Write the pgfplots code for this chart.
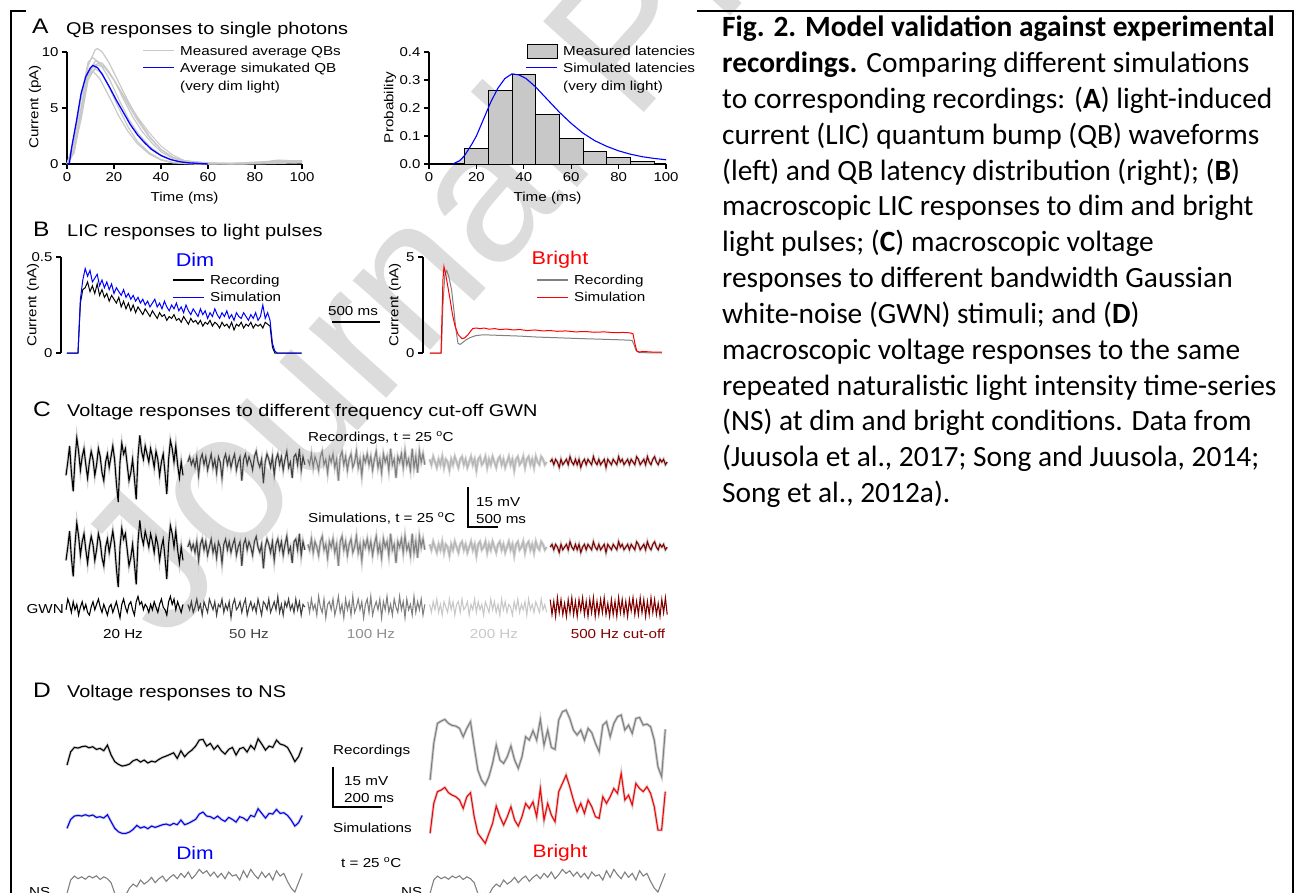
\documentclass[border=0pt]{standalone}
\usepackage{fontspec}
\setmainfont{Liberation Sans}[FakeStretch=1.17]
\newfontfamily\capfont{Carlito}
\newfontfamily\wmfont{Liberation Sans}
\usepackage{pgfplots}
\usepackage{pgfplotstable}
\pgfplotsset{compat=1.18}

\definecolor{qbgray}{HTML}{C8C8C8}
\definecolor{dkred}{HTML}{800000}
\definecolor{g50}{HTML}{404040}
\definecolor{g100}{HTML}{808080}
\definecolor{g200}{HTML}{B4B4B4}
\definecolor{g200l}{HTML}{C8C8C8}
\definecolor{sd}{HTML}{D2D2D2}
\definecolor{wm}{HTML}{DCDCDC}

\newcommand\fs[1]{\fontsize{#1}{#1}\selectfont}

% B: dim light pulse, t in ms, current in nA
\pgfplotstableread{
t rec sim
-115 0 0
0 0.00 0.00
25 0.26 0.28
50 0.33 0.38
75 0.34 0.44
100 0.37 0.40
125 0.32 0.43
150 0.35 0.37
175 0.31 0.39
200 0.36 0.41
225 0.30 0.35
250 0.33 0.38
275 0.29 0.34
300 0.31 0.37
325 0.27 0.33
350 0.30 0.36
375 0.28 0.31
400 0.26 0.34
425 0.29 0.32
450 0.24 0.30
475 0.27 0.33
500 0.23 0.29
525 0.26 0.31
550 0.22 0.28
575 0.25 0.30
600 0.21 0.27
625 0.24 0.29
650 0.22 0.26
675 0.20 0.28
700 0.23 0.25
725 0.21 0.27
750 0.19 0.24
775 0.22 0.26
800 0.20 0.28
825 0.18 0.24
850 0.21 0.26
875 0.19 0.23
900 0.20 0.27
925 0.17 0.24
950 0.19 0.22
975 0.18 0.25
1000 0.20 0.23
1025 0.17 0.26
1050 0.18 0.22
1075 0.16 0.24
1100 0.19 0.21
1125 0.17 0.25
1150 0.15 0.22
1175 0.18 0.20
1200 0.16 0.23
1225 0.17 0.21
1250 0.15 0.19
1275 0.17 0.23
1300 0.14 0.20
1325 0.16 0.22
1350 0.15 0.18
1375 0.17 0.21
1400 0.14 0.19
1425 0.16 0.23
1450 0.15 0.20
1475 0.13 0.18
1500 0.16 0.21
1525 0.14 0.19
1550 0.15 0.22
1575 0.13 0.18
1600 0.16 0.20
1625 0.12 0.17
1650 0.15 0.21
1675 0.14 0.19
1700 0.16 0.18
1725 0.13 0.21
1750 0.15 0.19
1775 0.14 0.17
1800 0.16 0.20
1825 0.13 0.18
1850 0.15 0.21
1875 0.14 0.17
1900 0.15 0.19
1925 0.13 0.25
1950 0.16 0.18
1975 0.15 0.21
2000 0.14 0.17
2025 0.03 0.05
2050 0.00 0.01
2075 0.00 0.00
2330 0.00 0.00
}\dimB

% C: voltage responses (a..e) and GWN stimuli (ga..ge), t in ms, mV
\pgfplotstableread{
t a b c d e ga gb gc gd ge
0 -3 0 1 1 0 -1 1 2 1 2.8
30 2 2 -1 -1 1 3 -1 -2 -2 -2.8
60 8 -1 3 2 -1 1 2 3 2 2.1
90 -2 1 -2 0 1 -2 -2 -1 -1 -3.5
120 -9 -2 2 -2 0 2 0 1 3 3.5
150 3 2 0 1 -2 -1 3 -3 -2 -2.1
180 11 -5 -3 -1 1 1 -1 4 1 2.8
210 6 1 2 2 -1 -3 1 0 -3 -2.8
240 -1 3 4 -2 0 0 -3 -2 2 1.4
270 4 -1 -1 1 1 2 2 3 0 -3.5
300 7 2 1 0 -1 -1 0 -4 -2 2.8
330 1 -3 -4 -3 2 1 -2 1 3 -2.1
360 -4 0 2 1 0 -2 3 2 -1 3.5
390 2 3 0 -1 -1 -3 1 -1 2 -2.8
420 6 -2 3 2 1 0 -1 3 -3 2.1
450 3 1 -2 0 -1 2 2 -3 1 -3.5
480 -3 -4 1 -2 1 -1 -3 0 2 2.8
510 1 2 -7 1 -2 1 1 4 -2 -1.4
540 7 0 2 2 0 3 0 -2 3 3.5
570 4 -6 4 -1 1 0 3 1 -1 -2.8
600 -2 1 -1 1 -1 -2 -2 -4 0 2.1
630 -5 3 2 -2 1 1 1 3 2 -3.5
660 2 -1 -3 0 0 -1 -1 -1 -3 2.8
690 5 2 1 2 -1 -3 2 2 1 -2.1
720 0 -2 3 -1 2 0 -4 -3 -1 3.5
750 4 1 -2 1 0 1 1 4 3 -3.5
780 8 3 0 -3 -1 -2 3 -2 -2 2.1
810 3 -3 4 1 1 0 -1 0 2 -2.8
840 -6 0 -2 2 -1 2 0 3 -1 2.8
870 -13 2 1 -1 0 -1 2 -1 1 -2.1
900 2 -7 -5 0 1 -4 -2 2 -3 3.5
930 9 1 2 2 -2 1 1 -4 2 -2.8
960 5 3 0 -2 1 3 3 1 0 1.4
990 7 -1 3 1 0 0 -3 3 -2 -3.5
1020 1 2 -1 -1 -1 -2 0 -2 3 2.8
1050 -5 0 2 2 1 1 2 4 -1 -2.8
1080 -2 -3 -3 0 0 2 -1 -3 2 2.1
1110 3 2 1 -2 -1 -1 1 0 -2 -3.5
1140 -4 4 4 1 2 -3 -2 2 1 3.5
1170 -12 0 -2 2 0 2 3 -1 -3 -2.1
1200 4 -2 1 -1 1 4 0 3 3 2.8
1230 12 1 -4 1 -1 1 -3 -4 -1 -2.8
1260 6 -8 3 -2 0 2 2 2 2 2.1
1290 3 0 0 0 1 -1 1 -1 -2 -3.5
1320 8 3 2 2 -1 1 -1 4 1 2.8
1350 5 1 -3 -1 1 0 3 -2 0 -1.4
1380 2 -2 5 1 0 -2 -2 1 -3 3.5
1410 7 2 -1 -3 -1 1 0 -3 2 -2.8
1440 4 -5 1 1 2 -1 2 3 -1 2.1
1470 0 1 -6 2 1 2 -1 0 3 -2.8
1500 6 3 2 -1 -1 0 4 -2 -2 3.5
1530 3 -1 0 0 0 -2 -2 4 1 -2.1
1560 -3 2 3 2 1 1 1 -1 -1 2.8
1590 2 -3 -2 -2 -1 3 -3 2 2 -3.5
1620 5 1 4 1 2 0 2 -4 -3 2.1
1650 -2 4 -1 2 0 -1 0 3 3 -2.8
1680 -10 -2 1 -1 -1 -3 3 -1 -1 3.5
1710 3 0 -3 1 1 2 -1 1 1 -2.1
1740 10 -6 5 -2 2 4 1 -3 -2 2.8
1770 7 2 -2 2 0 1 -2 4 2 -2.8
1800 2 3 2 0 -1 3 3 -2 0 1.4
1830 8 -1 -4 -1 1 -1 -1 2 -2 -3.5
1860 1 5 4 2 0 2 2 -1 3 2.8
1890 -4 -3 0 1 1 0 -3 3 -1 -2.1
1920 2 2 3 -1 -1 -2 1 -3 1 3.5
1950 -3 -1 -1 0 0 1 0 1 -2 -2.8
}\Cv

% D: NS responses, t in ms, mV (dim rec/sim, bright rec/sim, NS stimulus)
\pgfplotstableread{
t dr ds br bs ns
0 -1.9 -3.1 -12.5 -8.75 -5
15 3.1 0.25 1.25 2.5 0
30 4.75 1.5 8.75 6.9 1.5
45 4.5 1.75 9.6 7.5 0.5
60 5 1.5 10.25 8.5 1.2
75 5.25 2 8.75 6.5 0.3
90 4.6 1.5 8 5.6 1.5
105 5 1.9 7.75 5 0.8
120 4 1 6.9 3.75 1.6
135 4.4 1.25 3.75 0.6 0.2
150 3.5 0.75 6.9 5 1.2
165 5.6 2 9.4 6.5 0.5
180 1.9 -0.6 0 -2.5 -1
195 -0.6 -3.1 -8.75 -8.75 -5
210 -1.6 -4.4 -12.5 -10.6 -5.5
225 -2.25 -5 -14.4 -12.5 -5
240 -2 -5 -11.25 -8.75 -5.5
255 -1.5 -4.5 -6.25 -5 -3
270 -0.25 -3.5 0.6 1.5 -1.5
285 0.25 -2 -5 -2.5 -2.5
300 -0.75 -3 -6.25 -5.6 0
315 0 -2.5 -3.75 -2.5 -1.5
330 -1.1 -3.25 0.25 1.25 -0.5
345 -0.4 -2.25 -5 -3.75 1
360 -0.75 -2.75 -8.1 -6 -1
375 0.25 -2.25 -3.75 -2.5 0.5
390 1 -1.75 3.75 2.5 1.5
405 1.5 -1.5 2.5 0.6 -0.5
420 2.1 -2 6 3.1 1
435 2.75 -1.25 2.5 -2.5 2
450 0.6 -1.75 10.25 8.1 0.5
465 3.5 0 0.6 -3.75 2.5
480 1.25 -1.75 6.25 2.5 1
495 2.75 -1.25 -0.25 -1.9 3
510 3.75 -0.5 -1 -4.4 0.5
525 5.25 0.25 10 6.9 2
540 7.5 2.25 13.1 10 4
555 7.75 3 13.75 13.1 2.5
570 5.25 1.5 10.6 8.75 3.5
585 6.25 1.25 6.25 3.75 1.5
600 4 0.5 4.4 -0.6 3
615 5.5 1.5 6.25 2.5 1
630 3.5 0.25 2.5 -1.25 2.5
645 2.25 -0.5 6.9 3.75 0.5
660 4 1 5.25 1.25 3
675 4.75 0.25 1.25 -2.5 1.5
690 1.9 -0.75 -1.9 -3.1 2
705 4.25 1.25 8.1 5 0
720 4.75 0.75 9.4 2.5 3.5
735 3 -0.25 3.75 5 1
750 5.5 1.75 8.75 8.1 4
765 4 1.25 11.25 6.25 2
780 8 4.25 11.9 13.75 0.5
795 6 2.5 6.25 3.75 3
810 3.75 0.75 8.1 5.6 1
825 5.25 2.5 5 1.9 2.5
840 4.75 2.25 10.6 10 0
855 7.5 4 11 8.1 3.5
870 6 2.5 8.1 6.9 1.5
885 5.6 2.75 8.5 8.75 2.5
900 4.75 1.75 7.5 6.25 -0.5
915 2.25 0 2.5 1.25 -3
930 -0.6 -2.25 -7.5 -7.5 -4.5
945 1.25 -1 -11.25 -7.5 -1
960 4.75 1.75 6.5 6.9 2.5
}\Dv

\pgfplotsset{
  panel/.style={scale only axis, clip=false,
    axis line style={line width=1.6pt,-},
    tick align=outside, major tick length=5pt,
    tick style={line width=1.2pt, black},
    tick label style={font=\fs{12.8}},
    label style={font=\fs{13}},
    /pgf/number format/assume math mode=true},
  trace/.style={hide axis, scale only axis, clip=false},
}

% one C trace with its grey spread: column, x shift, y shift, colour
\newcommand\ctrace[4]{%
  \addplot[sd, line width=2.8pt] table[x expr=\thisrow{t}+#2, y expr=\thisrow{#1}#3]{\Cv};
  \addplot[#4, line width=1.1pt] table[x expr=\thisrow{t}+#2, y expr=\thisrow{#1}#3]{\Cv};}
\newcommand\gtrace[3]{%
  \addplot[#3, line width=1.1pt] table[x expr=\thisrow{t}+#2, y expr=\thisrow{#1}-54.4]{\Cv};}

\tikzset{tx/.style={anchor=base west, inner sep=0pt, font=\fs{13}},
  captx/.style={anchor=base west, inner sep=0pt, font=\capfont\fs{29.4}}}
% legend key: colour/width, x, y (picture pixels, y downwards)
\newcommand\lkey[3]{\draw[#1] (#2pt,-#3pt) -- ++(31pt,0pt);}

\begin{document}
\begin{tikzpicture}
\useasboundingbox (0,0) rectangle (1295pt,-893pt);

% watermark
\node[text=wm, font=\wmfont\fs{197}, rotate=48, anchor=base west, inner sep=0pt]
  at (165pt,-645pt) {Journal Pre-proof};

% frame
\draw[line width=2.5pt] (26pt,-11pt) -- (11pt,-11pt) -- (11pt,-900pt);
\draw[line width=2.5pt] (697pt,-11pt) -- (1293pt,-11pt) -- (1293pt,-900pt);

% panel titles
\node[tx, font=\fs{21}] at (32pt,-33.5pt) {A};
\node[tx, font=\fs{17}] at (66pt,-35pt) {QB responses to single photons};
\node[tx, font=\fs{21}] at (33pt,-237pt) {B};
\node[tx, font=\fs{17}] at (67pt,-236.5pt) {LIC responses to light pulses};
\node[tx, font=\fs{21}] at (33pt,-416pt) {C};
\node[tx, font=\fs{17}] at (67pt,-416pt) {Voltage responses to different frequency cut-off GWN};
\node[tx, font=\fs{21}] at (33pt,-697pt) {D};
\node[tx, font=\fs{17}] at (67pt,-697pt) {Voltage responses to NS};

% ---------------- A left
\begin{axis}[panel, at={(67pt,-164pt)}, anchor=south west, width=235pt, height=112pt,
  xmin=0, xmax=100, ymin=0, ymax=10,
  axis x line*=bottom, axis y line*=left,
  xtick={0,20,40,60,80,100}, ytick={0,5,10},
  xlabel={Time (ms)}, ylabel={Current (pA)},
  xlabel style={at={(axis description cs:0.5,-0.304)}, anchor=center},
  ylabel style={at={(axis description cs:-0.136,0.51)}, anchor=center}]
\addplot[qbgray, line width=1.2pt] coordinates {(0,0)(3,1.5)(6,5)(9,8.8)(12,10.2)(13,10.3)(15,10.0)(18,9.0)(22,7.3)(26,5.6)(30,4.1)(35,2.5)(40,1.3)(45,0.6)(50,0.3)(55,0.15)(60,0.05)(70,0)(80,0.05)(90,0.3)(95,0.25)(100,0.2)};
\addplot[qbgray, line width=1.2pt] coordinates {(0,0)(3,2)(6,6)(9,9.1)(11,9.5)(14,9.0)(18,7.6)(22,5.8)(26,4.1)(30,2.8)(35,1.6)(40,0.8)(45,0.35)(50,0.15)(60,0.05)(70,0.05)(80,0.1)(90,0.35)(100,0.25)};
\addplot[qbgray, line width=1.2pt] coordinates {(0,0)(3,1)(6,4.5)(9,8)(12,9.2)(15,9.0)(18,8.2)(22,6.8)(26,5.3)(30,3.9)(35,2.4)(40,1.3)(45,0.6)(50,0.25)(60,0.1)(70,0.05)(80,0.15)(90,0.2)(100,0.3)};
\addplot[qbgray, line width=1.2pt] coordinates {(0,0)(3,1.5)(6,5)(9,7.8)(12,8.5)(15,8.1)(18,6.8)(22,5)(26,3.3)(30,2.0)(35,1.0)(40,0.4)(45,0.15)(50,0.05)(60,0)(80,0.05)(90,0.15)(100,0.1)};
\addplot[qbgray, line width=1.2pt] coordinates {(0,0)(3,2)(6,6)(9,8)(11,8.3)(14,7.6)(18,6.0)(22,4.3)(26,2.9)(30,1.8)(35,0.9)(40,0.35)(45,0.1)(55,0)(70,0.05)(85,0.2)(100,0.15)};
\addplot[qbgray, line width=1.2pt] coordinates {(0,0)(3,1.2)(6,4)(9,7.5)(13,9.0)(16,8.7)(20,7.5)(24,5.8)(28,4.2)(32,2.9)(36,1.9)(40,1.1)(45,0.5)(50,0.2)(60,0.05)(75,0)(90,0.25)(100,0.3)};
\addplot[qbgray, line width=1pt] coordinates {(0,0)(3,1)(6,4.5)(9,8)(12,8.9)(16,8.6)(20,7.5)(25,5.8)(30,4.2)(35,2.8)(40,1.6)(45,0.8)(50,0.3)(60,0.1)(80,0)(100,0.1)};
\addplot[blue, line width=1.3pt] coordinates {(0,0)(1,0.05)(2,1.5)(4,3.8)(6,6.3)(8,7.8)(10,8.6)(11,8.8)(13,8.6)(15,8.0)(18,6.9)(21,5.7)(24,4.6)(27,3.5)(30,2.6)(33,1.9)(36,1.3)(40,0.75)(44,0.4)(48,0.2)(52,0.1)(56,0.05)(60,0)};
\end{axis}
\lkey{qbgray, line width=1.2pt}{143}{50.7}
\lkey{blue, line width=1.3pt}{143}{67.7}
\node[tx] at (180pt,-55.5pt) {Measured average QBs};
\node[tx] at (180pt,-72.5pt) {Average simukated QB};
\node[tx] at (180pt,-90.5pt) {(very dim light)};

% ---------------- A right
\begin{axis}[panel, at={(429pt,-164pt)}, anchor=south west, width=237pt, height=112pt,
  xmin=0, xmax=100, ymin=0, ymax=0.4,
  axis x line*=bottom, axis y line*=left,
  xtick={0,20,40,60,80,100}, ytick={0,0.1,0.2,0.3,0.4},
  yticklabel style={/pgf/number format/.cd, fixed, fixed zerofill, precision=1},
  xlabel={Time (ms)}, ylabel={Probability},
  xlabel style={at={(axis description cs:0.5,-0.304)}, anchor=center},
  ylabel style={at={(axis description cs:-0.165,0.504)}, anchor=center}]
\addplot[ybar interval, fill=qbgray, draw=black, line width=0.8pt]
  coordinates {(5,0.003)(15,0.055)(25,0.262)(35,0.32)(45,0.178)(55,0.09)(65,0.044)(75,0.022)(85,0.01)(95,0.01)};
\addplot[blue, line width=1.1pt] coordinates {(10,0)(13,0.012)(15,0.03)(18,0.07)(20,0.1)(23,0.16)(26,0.22)(29,0.27)(32,0.305)(35,0.322)(38,0.318)(41,0.305)(45,0.275)(50,0.23)(55,0.185)(60,0.145)(65,0.11)(70,0.083)(75,0.063)(80,0.047)(85,0.035)(90,0.026)(95,0.02)(100,0.015)};
\end{axis}
\draw[fill=qbgray, draw=black, line width=0.8pt] (527pt,-44pt) rectangle (557pt,-58pt);
\lkey{blue, line width=1.1pt}{526}{67.7}
\node[tx] at (563pt,-55.5pt) {Measured latencies};
\node[tx] at (563pt,-72.5pt) {Simulated latencies};
\node[tx] at (563pt,-90.5pt) {(very dim light)};

% ---------------- B left (dim)
\begin{axis}[panel, at={(61pt,-353pt)}, anchor=south west, width=241pt, height=96pt,
  xmin=-177, xmax=2333, ymin=0, ymax=0.5,
  axis x line=none, axis y line*=left, ytick={0,0.5},
  ylabel={Current (nA)},
  ylabel style={at={(axis description cs:-0.116,0.5)}, anchor=center}]
\addplot[black, line width=1pt] table[x=t, y=rec]{\dimB};
\addplot[blue, line width=1pt] table[x=t, y=sim]{\dimB};
\end{axis}
\node[font=\fs{18.5}, text=blue, inner sep=0pt] at (195pt,-260pt) {Dim};
\lkey{black, line width=1pt}{173}{280}
\lkey{blue, line width=1pt}{173}{297}
\node[tx] at (210pt,-284.5pt) {Recording};
\node[tx] at (210pt,-301.5pt) {Simulation};

% ---------------- B right (bright)
\begin{axis}[panel, at={(423pt,-353pt)}, anchor=south west, width=239pt, height=96pt,
  xmin=-187.5, xmax=2302.5, ymin=0, ymax=5,
  axis x line=none, axis y line*=left, ytick={0,5},
  ylabel={Current (nA)},
  ylabel style={at={(axis description cs:-0.117,0.5)}, anchor=center}]
\addplot[g100, line width=1pt] coordinates {(-115,0)(0,0)(5,0.2)(20,2.5)(40,4.1)(60,4.3)(80,4.0)(110,3.3)(135,2.2)(156,1.2)(177,0.5)(200,0.45)(219,0.52)(260,0.68)(302,0.8)(360,0.9)(437,0.95)(600,0.92)(823,0.88)(1000,0.83)(1240,0.79)(1450,0.75)(1656,0.72)(1850,0.69)(1990,0.66)(2010,0.45)(2030,0.15)(2060,0.02)(2300,0)};
\addplot[red, line width=1pt] coordinates {(-115,0)(0,0)(8,1.5)(20,3.8)(31,4.5)(45,4.2)(70,3.5)(94,2.8)(120,2.0)(146,1.4)(180,0.95)(219,0.75)(245,0.78)(281,0.95)(310,1.15)(333,1.28)(370,1.3)(406,1.27)(450,1.3)(500,1.24)(560,1.27)(615,1.22)(680,1.25)(750,1.2)(820,1.22)(900,1.17)(980,1.2)(1060,1.15)(1135,1.17)(1210,1.13)(1300,1.15)(1400,1.1)(1500,1.12)(1600,1.08)(1700,1.1)(1800,1.06)(1900,1.07)(1969,1.05)(2000,1.0)(2020,0.5)(2040,0.1)(2070,0.05)(2100,0.08)(2200,0.05)(2300,0.04)};
\draw[line width=1.3pt] (axis cs:-1135,1.615) -- (axis cs:-635,1.615);
\end{axis}
\node[font=\fs{18.5}, text=red, inner sep=0pt] at (560pt,-260pt) {Bright};
\lkey{g100, line width=1pt}{537}{280}
\lkey{red, line width=1pt}{537}{297}
\node[tx] at (574pt,-284.5pt) {Recording};
\node[tx] at (574pt,-301.5pt) {Simulation};
\node[tx, anchor=base] at (353pt,-315pt) {500 ms};

% ---------------- C
\begin{axis}[trace, at={(66pt,-622pt)}, anchor=south west, width=600pt, height=200pt,
  xmin=0, xmax=10000, ymin=-60, ymax=15]
\ctrace{a}{0}{-2}{black}
\ctrace{b}{2030}{+0}{g50}
\ctrace{c}{4030}{+0}{g100}
\ctrace{d}{6060}{+0}{g200}
\ctrace{e}{8070}{+0}{dkred}
\ctrace{a}{0}{-33.9}{black}
\ctrace{b}{2030}{-31.9}{g50}
\ctrace{c}{4030}{-31.9}{g100}
\ctrace{d}{6060}{-31.9}{g200}
\ctrace{e}{8070}{-31.9}{dkred}
\gtrace{ga}{0}{black}
\gtrace{gb}{2030}{g50}
\gtrace{gc}{4030}{g100}
\gtrace{gd}{6060}{g200l}
\gtrace{ge}{8070}{dkred}
\draw[line width=1.5pt] (axis cs:6700,-9.4) -- (axis cs:6700,-24.4) -- (axis cs:7200,-24.4);
\end{axis}
\node[tx] at (308pt,-441pt) {Recordings, t = 25 \textsuperscript{o}C};
\node[tx] at (308pt,-522pt) {Simulations, t = 25 \textsuperscript{o}C};
\node[tx] at (476pt,-506pt) {15 mV};
\node[tx] at (476pt,-523pt) {500 ms};
\node[tx, anchor=base east] at (64pt,-613pt) {GWN};
\node[tx, anchor=base] at (123pt,-638pt) {20 Hz};
\node[tx, anchor=base, text=g50] at (249pt,-638pt) {50 Hz};
\node[tx, anchor=base, text=g100!90] at (371pt,-638pt) {100 Hz};
\node[tx, anchor=base, text=g200l] at (494pt,-638pt) {200 Hz};
\node[tx, anchor=base, text=dkred] at (618pt,-638pt) {500 Hz cut-off};

% ---------------- D
\begin{axis}[trace, at={(67pt,-906.7pt)}, anchor=south west, width=597.8pt, height=213.3pt,
  xmin=0, xmax=2440, ymin=-55, ymax=25]
\addplot[sd, line width=2.8pt] table[x=t, y=dr]{\Dv};
\addplot[black, line width=1.1pt] table[x=t, y=dr]{\Dv};
\addplot[sd, line width=2.8pt] table[x=t, y expr=\thisrow{ds}-22.5]{\Dv};
\addplot[blue, line width=1.1pt] table[x=t, y expr=\thisrow{ds}-22.5]{\Dv};
\addplot[g100, line width=1.1pt] table[x=t, y expr=\thisrow{ns}-45]{\Dv};
\addplot[sd, line width=2.8pt] table[x expr=\thisrow{t}+1482, y expr=\thisrow{br}+5]{\Dv};
\addplot[g100, line width=1.1pt] table[x expr=\thisrow{t}+1482, y expr=\thisrow{br}+5]{\Dv};
\addplot[sd, line width=2.8pt] table[x expr=\thisrow{t}+1482, y expr=\thisrow{bs}-18.75]{\Dv};
\addplot[red, line width=1.1pt] table[x expr=\thisrow{t}+1482, y expr=\thisrow{bs}-18.75]{\Dv};
\addplot[g100, line width=1.1pt] table[x expr=\thisrow{t}+1482, y expr=\thisrow{ns}-45]{\Dv};
\draw[line width=1.5pt] (axis cs:1086,-2.6) -- (axis cs:1086,-17.6) -- (axis cs:1286,-17.6);
\end{axis}
\node[tx] at (333pt,-754pt) {Recordings};
\node[tx] at (344pt,-785pt) {15 mV};
\node[tx] at (344pt,-802pt) {200 ms};
\node[tx] at (333pt,-832pt) {Simulations};
\node[tx] at (341pt,-867pt) {t = 25 \textsuperscript{o}C};
\node[font=\fs{18}, text=blue, inner sep=0pt] at (195pt,-852.7pt) {Dim};
\node[font=\fs{18}, text=red, inner sep=0pt] at (560pt,-852.7pt) {Bright};
\node[tx] at (29pt,-896pt) {NS};
\node[tx] at (401pt,-896pt) {NS};

% ---------------- caption
\node[captx] at (722pt,-37pt) {\bfseries Fig. 2. Model validation against experimental};
\node[captx] at (722pt,-72.8pt) {\textbf{recordings.} Comparing different simulations};
\node[captx] at (722pt,-108.6pt) {to corresponding recordings: (\textbf{A}) light-induced};
\node[captx] at (722pt,-144.4pt) {current (LIC) quantum bump (QB) waveforms};
\node[captx] at (722pt,-180.2pt) {(left) and QB latency distribution (right); (\textbf{B})};
\node[captx] at (722pt,-216pt) {macroscopic LIC responses to dim and bright};
\node[captx] at (722pt,-251.8pt) {light pulses; (\textbf{C}) macroscopic voltage};
\node[captx] at (722pt,-287.6pt) {responses to different bandwidth Gaussian};
\node[captx] at (722pt,-323.4pt) {white-noise (GWN) stimuli; and (\textbf{D})};
\node[captx] at (722pt,-359.2pt) {macroscopic voltage responses to the same};
\node[captx] at (722pt,-395pt) {repeated naturalistic light intensity time-series};
\node[captx] at (722pt,-430.8pt) {(NS) at dim and bright conditions. Data from};
\node[captx] at (722pt,-466.6pt) {(Juusola et al., 2017; Song and Juusola, 2014;};
\node[captx] at (722pt,-502.4pt) {Song et al., 2012a).};
\end{tikzpicture}
\end{document}
